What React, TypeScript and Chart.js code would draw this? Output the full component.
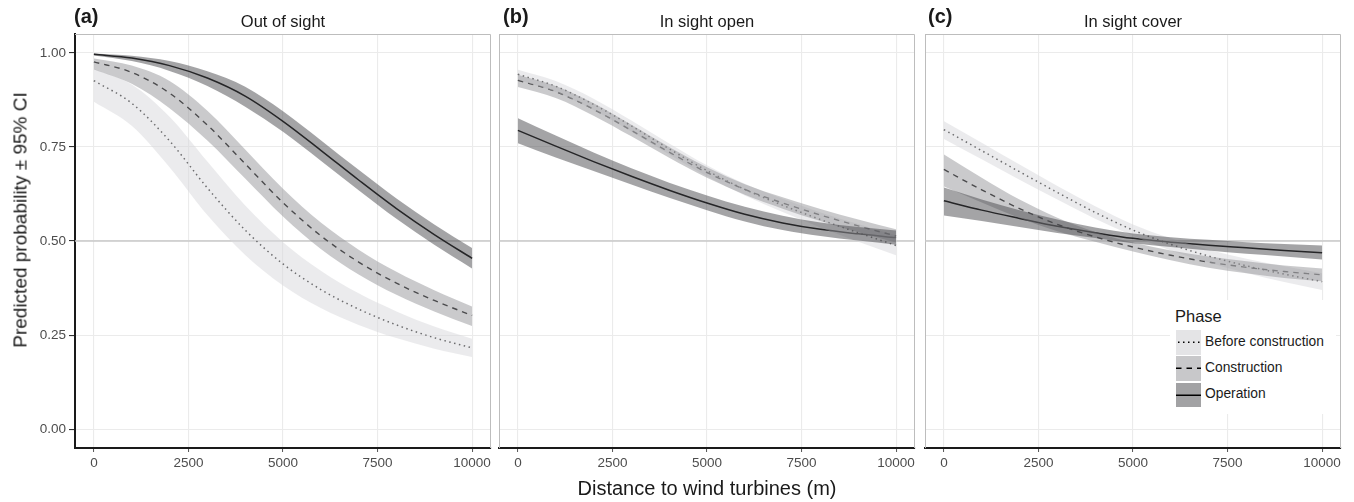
import React, { useEffect, useRef } from "react";
import { Chart, registerables } from "chart.js";

Chart.register(...registerables);

const FONT = "'Liberation Sans', Arial, Helvetica, sans-serif";
Chart.defaults.font.family = FONT;

const W = 1354;
const H = 502;

// ---------- data ----------
const distance = [0, 1000, 2000, 3000, 4000, 5000, 6000, 7000, 8000, 9000, 10000];
const xTickValues = [0, 2500, 5000, 7500, 10000];
const yTickValues = [0, 0.25, 0.5, 0.75, 1];
const referenceLevel = 0.5;

const phaseNames = ["Before construction", "Construction", "Operation"];
const panelTags = ["(a)", "(b)", "(c)"];
const panelTitles = ["Out of sight", "In sight open", "In sight cover"];
const legendTitle = "Phase";
const xAxisTitle = "Distance to wind turbines (m)";
const yAxisTitle = "Predicted probability ± 95% CI";

// (a) Out of sight
const aBeforeMean = [0.926, 0.866, 0.766, 0.641, 0.529, 0.439, 0.371, 0.319, 0.277, 0.243, 0.216];
const aBeforeLo = [0.87, 0.806, 0.696, 0.569, 0.463, 0.382, 0.322, 0.277, 0.242, 0.214, 0.192];
const aBeforeHi = [0.957, 0.916, 0.83, 0.711, 0.594, 0.497, 0.421, 0.361, 0.313, 0.273, 0.24];
const aConstrMean = [0.976, 0.948, 0.893, 0.808, 0.705, 0.602, 0.514, 0.444, 0.388, 0.342, 0.302];
const aConstrLo = [0.956, 0.918, 0.853, 0.767, 0.666, 0.565, 0.479, 0.411, 0.357, 0.313, 0.274];
const aConstrHi = [0.985, 0.966, 0.925, 0.846, 0.743, 0.639, 0.549, 0.477, 0.418, 0.369, 0.326];
const aOperMean = [0.996, 0.986, 0.966, 0.933, 0.885, 0.818, 0.741, 0.662, 0.586, 0.517, 0.454];
const aOperLo = [0.993, 0.978, 0.952, 0.912, 0.857, 0.79, 0.713, 0.635, 0.559, 0.49, 0.427];
const aOperHi = [0.998, 0.992, 0.978, 0.951, 0.91, 0.845, 0.768, 0.689, 0.613, 0.544, 0.481];

// (b) In sight open
const bBeforeMean = [0.943, 0.911, 0.863, 0.806, 0.745, 0.687, 0.637, 0.595, 0.557, 0.522, 0.488];
const bBeforeLo = [0.928, 0.896, 0.848, 0.791, 0.73, 0.672, 0.621, 0.577, 0.536, 0.498, 0.462];
const bBeforeHi = [0.955, 0.925, 0.878, 0.82, 0.759, 0.701, 0.652, 0.612, 0.576, 0.545, 0.515];
const bConstrMean = [0.927, 0.897, 0.85, 0.794, 0.736, 0.682, 0.637, 0.601, 0.569, 0.54, 0.513];
const bConstrLo = [0.909, 0.88, 0.833, 0.778, 0.721, 0.668, 0.623, 0.586, 0.553, 0.523, 0.496];
const bConstrHi = [0.942, 0.912, 0.866, 0.809, 0.75, 0.696, 0.651, 0.616, 0.585, 0.557, 0.531];
const bOperMean = [0.794, 0.752, 0.711, 0.672, 0.635, 0.601, 0.571, 0.548, 0.531, 0.519, 0.509];
const bOperLo = [0.76, 0.722, 0.686, 0.65, 0.615, 0.582, 0.552, 0.529, 0.513, 0.501, 0.49];
const bOperHi = [0.826, 0.78, 0.735, 0.693, 0.655, 0.621, 0.591, 0.567, 0.549, 0.537, 0.528];

// (c) In sight cover
const cBeforeMean = [0.796, 0.74, 0.684, 0.629, 0.576, 0.529, 0.491, 0.46, 0.434, 0.412, 0.392];
const cBeforeLo = [0.771, 0.717, 0.663, 0.61, 0.559, 0.514, 0.475, 0.443, 0.415, 0.391, 0.37];
const cBeforeHi = [0.818, 0.761, 0.703, 0.646, 0.592, 0.544, 0.507, 0.477, 0.453, 0.433, 0.414];
const cConstrMean = [0.69, 0.636, 0.586, 0.544, 0.511, 0.484, 0.462, 0.444, 0.43, 0.419, 0.41];
const cConstrLo = [0.645, 0.602, 0.561, 0.526, 0.498, 0.472, 0.449, 0.429, 0.414, 0.402, 0.393];
const cConstrHi = [0.73, 0.668, 0.61, 0.562, 0.524, 0.496, 0.475, 0.459, 0.446, 0.435, 0.427];
const cOperMean = [0.607, 0.582, 0.56, 0.539, 0.522, 0.507, 0.497, 0.489, 0.482, 0.475, 0.469];
const cOperLo = [0.568, 0.553, 0.537, 0.521, 0.508, 0.494, 0.484, 0.475, 0.466, 0.459, 0.451];
const cOperHi = [0.642, 0.61, 0.582, 0.557, 0.536, 0.52, 0.51, 0.503, 0.497, 0.492, 0.488];

const panelMeans = [
  [aBeforeMean, aConstrMean, aOperMean],
  [bBeforeMean, bConstrMean, bOperMean],
  [cBeforeMean, cConstrMean, cOperMean],
];
const panelLows = [
  [aBeforeLo, aConstrLo, aOperLo],
  [bBeforeLo, bConstrLo, bOperLo],
  [cBeforeLo, cConstrLo, cOperLo],
];
const panelHighs = [
  [aBeforeHi, aConstrHi, aOperHi],
  [bBeforeHi, bConstrHi, bOperHi],
  [cBeforeHi, cConstrHi, cOperHi],
];

// ---------- styles / layout ----------
const PHASE_STYLE = [
  { fill: "rgba(215,215,219,0.5)", key: "#e4e4e6", dash: [1.5, 3.5], width: 1.5 },
  { fill: "rgba(150,150,154,0.5)", key: "#c8c8ca", dash: [5.5, 5], width: 1.4 },
  { fill: "rgba(73,73,78,0.5)", key: "#a2a2a4", dash: [] as number[], width: 1.5 },
];

const PANEL_X = [
  { left: 75, right: 491, tagLeft: 74 },
  { left: 499, right: 915, tagLeft: 503 },
  { left: 925, right: 1341, tagLeft: 928 },
];
const PLOT_TOP = 34;
const PLOT_BOTTOM = 448;
const TEXT = "#1a1a1a";
const TICK_TEXT = "#4d4d4d";
const GRID = "#ebebeb";
const FRAME = "#bdbdbd";

const pts = (arr: number[]) => distance.map((x, i) => ({ x, y: arr[i] }));

const framePlugin = {
  id: "panelFrame",
  afterDraw(chart: any) {
    const { ctx, chartArea } = chart;
    ctx.save();
    ctx.strokeStyle = FRAME;
    ctx.lineWidth = 1;
    ctx.beginPath();
    ctx.moveTo(chartArea.left, chartArea.top + 0.5);
    ctx.lineTo(chartArea.right - 0.5, chartArea.top + 0.5);
    ctx.lineTo(chartArea.right - 0.5, chartArea.bottom);
    ctx.stroke();
    ctx.restore();
  },
};

const refLinePlugin = {
  id: "refLine",
  beforeDatasetsDraw(chart: any) {
    const { ctx, chartArea, scales } = chart;
    const y = scales.y.getPixelForValue(referenceLevel);
    ctx.save();
    ctx.strokeStyle = "#c8c8c8";
    ctx.lineWidth = 1.3;
    ctx.beginPath();
    ctx.moveTo(chartArea.left, y);
    ctx.lineTo(chartArea.right, y);
    ctx.stroke();
    ctx.restore();
  },
};

function buildChart(canvas: HTMLCanvasElement, p: number) {
  const geom = PANEL_X[p];
  const first = p === 0;
  const yAxisW = first ? geom.left : 0;
  const datasets: any[] = [];
  const common = {
    pointRadius: 0,
    pointHoverRadius: 0,
    cubicInterpolationMode: "monotone",
  };
  // confidence bands (operation last in draw order => on top)
  for (const ph of [2, 1, 0]) {
    datasets.push({
      ...common,
      data: pts(panelHighs[p][ph]),
      fill: "+1",
      backgroundColor: PHASE_STYLE[ph].fill,
      borderColor: "rgba(0,0,0,0)",
      borderWidth: 0.01,
    });
    datasets.push({
      ...common,
      data: pts(panelLows[p][ph]),
      fill: false,
      borderColor: "rgba(0,0,0,0)",
      borderWidth: 0.01,
    });
  }
  for (const ph of [0, 1, 2]) {
    datasets.push({
      ...common,
      label: phaseNames[ph],
      data: pts(panelMeans[p][ph]),
      fill: false,
      borderColor: "#000",
      borderWidth: PHASE_STYLE[ph].width,
      borderDash: PHASE_STYLE[ph].dash,
      borderCapStyle: "butt",
    });
  }

  return new Chart(canvas, {
    type: "line",
    data: { datasets },
    plugins: [refLinePlugin, framePlugin],
    options: {
      animation: false,
      responsive: false,
      maintainAspectRatio: false,
      events: [],
      layout: {
        padding: {
          left: geom.left - yAxisW,
          right: W - geom.right,
          top: PLOT_TOP,
          bottom: 0,
        },
      },
      plugins: {
        legend: { display: false },
        tooltip: { enabled: false },
        title: { display: false },
      },
      scales: {
        x: {
          type: "linear",
          min: -500,
          max: 10500,
          afterBuildTicks: (s: any) => {
            s.ticks = xTickValues.map((v) => ({ value: v }));
          },
          afterFit: (s: any) => {
            s.height = H - PLOT_BOTTOM;
          },
          ticks: {
            callback: (v: any) => String(v),
            maxRotation: 0,
            autoSkip: false,
            color: TICK_TEXT,
            font: { size: 13.5, family: FONT },
            padding: 3,
          },
          grid: {
            color: GRID,
            lineWidth: 1.1,
            drawTicks: true,
            tickLength: 4,
            tickColor: "#555",
            tickWidth: 1,
          },
          border: { display: true, color: TEXT, width: 2 },
          title: {
            display: p === 1,
            text: xAxisTitle,
            color: TEXT,
            font: { size: 20, family: FONT },
            padding: { top: 0, bottom: 1 },
          },
        },
        y: {
          type: "linear",
          min: -0.05,
          max: 1.05,
          afterBuildTicks: (s: any) => {
            s.ticks = yTickValues.map((v) => ({ value: v }));
          },
          afterFit: (s: any) => {
            s.width = yAxisW;
          },
          ticks: {
            display: first,
            callback: (v: any) => Number(v).toFixed(2),
            color: TICK_TEXT,
            font: { size: 13.5, family: FONT },
            padding: 3,
          },
          grid: {
            color: GRID,
            lineWidth: 1.1,
            drawTicks: first,
            tickLength: 6,
            tickColor: "#333",
            tickWidth: 1.1,
          },
          border: {
            display: true,
            color: first ? TEXT : FRAME,
            width: first ? 2 : 1,
          },
        },
      },
    } as any,
  });
}

function KeyLine({ dash, width }: { dash: number[]; width: number }) {
  return (
    <svg width={25} height={24.5} style={{ position: "absolute", left: 0, top: 0 }}>
      <line
        x1={0}
        y1={12.25}
        x2={25}
        y2={12.25}
        stroke="#000"
        strokeWidth={width}
        strokeDasharray={dash.length ? dash.join(" ") : undefined}
        strokeDashoffset={dash.length && dash[0] < 2 ? -2 : 0}
      />
    </svg>
  );
}

export default function App() {
  const refs = [
    useRef<HTMLCanvasElement>(null),
    useRef<HTMLCanvasElement>(null),
    useRef<HTMLCanvasElement>(null),
  ];

  useEffect(() => {
    const charts = refs.map((r, i) => buildChart(r.current as HTMLCanvasElement, i));
    return () => charts.forEach((c) => c.destroy());
  }, []);

  const keyTops = [330, 356.2, 382.7];

  return (
    <div
      style={{
        position: "absolute",
        left: 0,
        top: 0,
        width: W,
        height: H,
        background: "#fff",
        fontFamily: FONT,
        color: TEXT,
        overflow: "hidden",
      }}
    >
      {refs.map((r, i) => (
        <canvas
          key={i}
          ref={r}
          width={W}
          height={H}
          style={{ position: "absolute", left: 0, top: 0, width: W, height: H, display: "block" }}
        />
      ))}

      {PANEL_X.map((g, i) => (
        <React.Fragment key={"t" + i}>
          <div
            style={{
              position: "absolute",
              left: g.tagLeft,
              top: 5.6,
              fontSize: 20,
              lineHeight: "20px",
              fontWeight: "bold",
              whiteSpace: "nowrap",
            }}
          >
            {panelTags[i]}
          </div>
          <div
            style={{
              position: "absolute",
              left: (g.left + g.right) / 2 - 150,
              width: 300,
              top: 12.6,
              fontSize: 16.5,
              lineHeight: "16.5px",
              textAlign: "center",
              whiteSpace: "nowrap",
            }}
          >
            {panelTitles[i]}
          </div>
        </React.Fragment>
      ))}

      <div
        style={{
          position: "absolute",
          left: 19.5,
          top: 220,
          transform: "translate(-50%, -50%) rotate(-90deg)",
          fontSize: 19,
          lineHeight: "19px",
          whiteSpace: "nowrap",
        }}
      >
        {yAxisTitle}
      </div>

      <div
        style={{
          position: "absolute",
          left: 1170,
          top: 300,
          width: 166,
          height: 114,
          background: "#fff",
        }}
      >
        <div
          style={{
            position: "absolute",
            left: 5,
            top: 8.3,
            fontSize: 16.5,
            lineHeight: "16.5px",
            whiteSpace: "nowrap",
          }}
        >
          {legendTitle}
        </div>
        {phaseNames.map((name, i) => (
          <React.Fragment key={name}>
            <div
              style={{
                position: "absolute",
                left: 6,
                top: keyTops[i] - 300,
                width: 25,
                height: 24.5,
                background: PHASE_STYLE[i].key,
              }}
            >
              <KeyLine dash={PHASE_STYLE[i].dash} width={PHASE_STYLE[i].width} />
            </div>
            <div
              style={{
                position: "absolute",
                left: 35,
                top: keyTops[i] - 300 + 12.25 - 7.6,
                fontSize: 13.8,
                lineHeight: "13.8px",
                whiteSpace: "nowrap",
              }}
            >
              {name}
            </div>
          </React.Fragment>
        ))}
      </div>
    </div>
  );
}
